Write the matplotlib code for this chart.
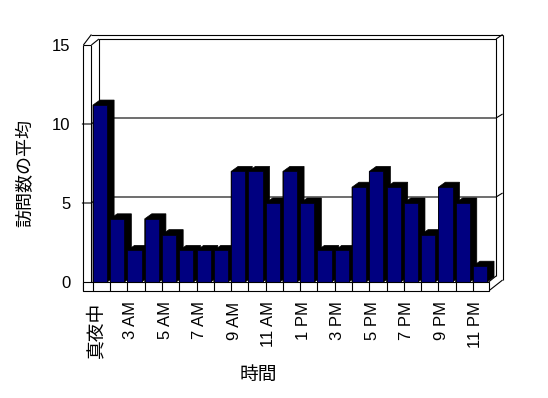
import numpy as np
import matplotlib
matplotlib.use("Agg")
import matplotlib.pyplot as plt
from matplotlib.patches import Polygon, Rectangle

plt.rcParams['font.family'] = ['Liberation Sans', 'Noto Sans CJK JP']

# hours (one hour missing in the source data)
hours = ['真夜中', '1 AM', '3 AM', '4 AM', '5 AM', '6 AM', '7 AM', '8 AM',
         '9 AM', '10 AM', '11 AM', '12 PM', '1 PM', '2 PM', '3 PM', '4 PM',
         '5 PM', '6 PM', '7 PM', '8 PM', '9 PM', '10 PM', '11 PM']
avg_visits = [11.2, 4, 2, 4, 3, 2, 2, 2, 7, 7, 5, 7, 5, 2, 2, 6, 7, 6, 5, 3, 6, 5, 1]
y_ticks = [0, 5, 10, 15]
x_title = '時間'
y_title = '訪問数の平均'

W, H = 548, 398
fig = plt.figure(figsize=(W / 100, H / 100), dpi=100)

# front plane of the "3d" box, in image pixels
left, right, top, bottom = 91.4, 488.6, 45, 282
ax = fig.add_axes([left / W, 1 - bottom / H, (right - left) / W, (bottom - top) / H])
n = len(avg_visits)
ax.set_xlim(-0.5, n - 0.5)
ax.set_ylim(0, 15)
ax.set_frame_on(False)

ux = n / (right - left)          # data units per pixel, x
uy = 15 / (bottom - top)         # data units per pixel, y
X0, X1, Y0, Y1 = -0.5, n - 0.5, 0, 15

navy = '#000080'
lw = 0.8

def line(xs, ys, z=1):
    ax.plot(xs, ys, color='black', lw=lw, clip_on=False, zorder=z,
            solid_capstyle='butt')

# walls
bx0, bx1 = X0 + 7.5 * ux, X1 + 7.5 * ux
by0, by1 = Y0 + 6 * uy, Y1 + 6 * uy
ox, oy = X1 + 14 * ux, Y1 + 10.5 * uy
wl = X0 - 8 * ux
fl = Y0 - 9 * uy

line([bx0, bx0, bx1, bx1], [by0, by1, by1, by0])
line([wl, X0], [Y1, Y1])
line([wl, X0], [Y1, oy])
line([X0, ox], [oy, oy])
line([X0, bx0], [Y1, by1])
line([bx1, ox], [by1, oy])
line([ox, ox], [oy, Y0 + 2 * uy])
line([X1, ox], [fl, Y0 + 2 * uy])
line([X1, bx1], [Y0, by0])
line([wl, wl], [Y1, fl])
line([X0, X0], [Y1, Y0])

# gridlines
for v in y_ticks[1:-1]:
    line([wl - 1.5 * ux, X0, bx0, bx1, ox],
         [v, v, v + 6 * uy, v + 6 * uy, v + 10 * uy])

# bars with black depth
w = 0.82
dx, dy = 7 * ux, 5 * uy
xs = np.arange(n)
for x, v in zip(xs, avg_visits):
    a, b = x - w / 2, x + w / 2
    ax.add_patch(Polygon([(a, v), (a + dx, v + dy), (b + dx, v + dy),
                          (b + dx, dy), (b, 0), (a, 0)],
                         closed=True, facecolor='black', edgecolor='black',
                         lw=0.5, zorder=2, clip_on=False))
ax.bar(xs, avg_visits, width=w, color=navy, edgecolor='black', linewidth=0.5,
       zorder=3, clip_on=False)

# floor front face
ax.add_patch(Rectangle((wl, fl), X1 - wl, Y0 - fl, facecolor='white',
                       edgecolor='black', lw=lw, zorder=4, clip_on=False))
for x in xs:
    line([x - w / 2, x - w / 2], [fl, Y0], z=5)

# ticks and labels
ax.set_yticks(y_ticks)
ax.set_yticklabels([str(t) for t in y_ticks], fontsize=12)
shown = xs[::2]
ax.set_xticks(shown - 4 * ux)
ax.set_xticklabels([hours[i] for i in shown], rotation=90, fontsize=12)
ax.get_xticklabels()[0].set_fontsize(13.5)
ax.tick_params(axis='y', length=0, pad=15)
ax.tick_params(axis='x', length=0, pad=14)

fig.text(258 / W, 1 - 375 / H, x_title, fontsize=13.5, ha='center', va='center')
fig.text(26 / W, 1 - 173 / H, y_title, fontsize=13, ha='center', va='center',
         rotation=90)

fig.savefig('out.png', dpi=100, facecolor='white')
